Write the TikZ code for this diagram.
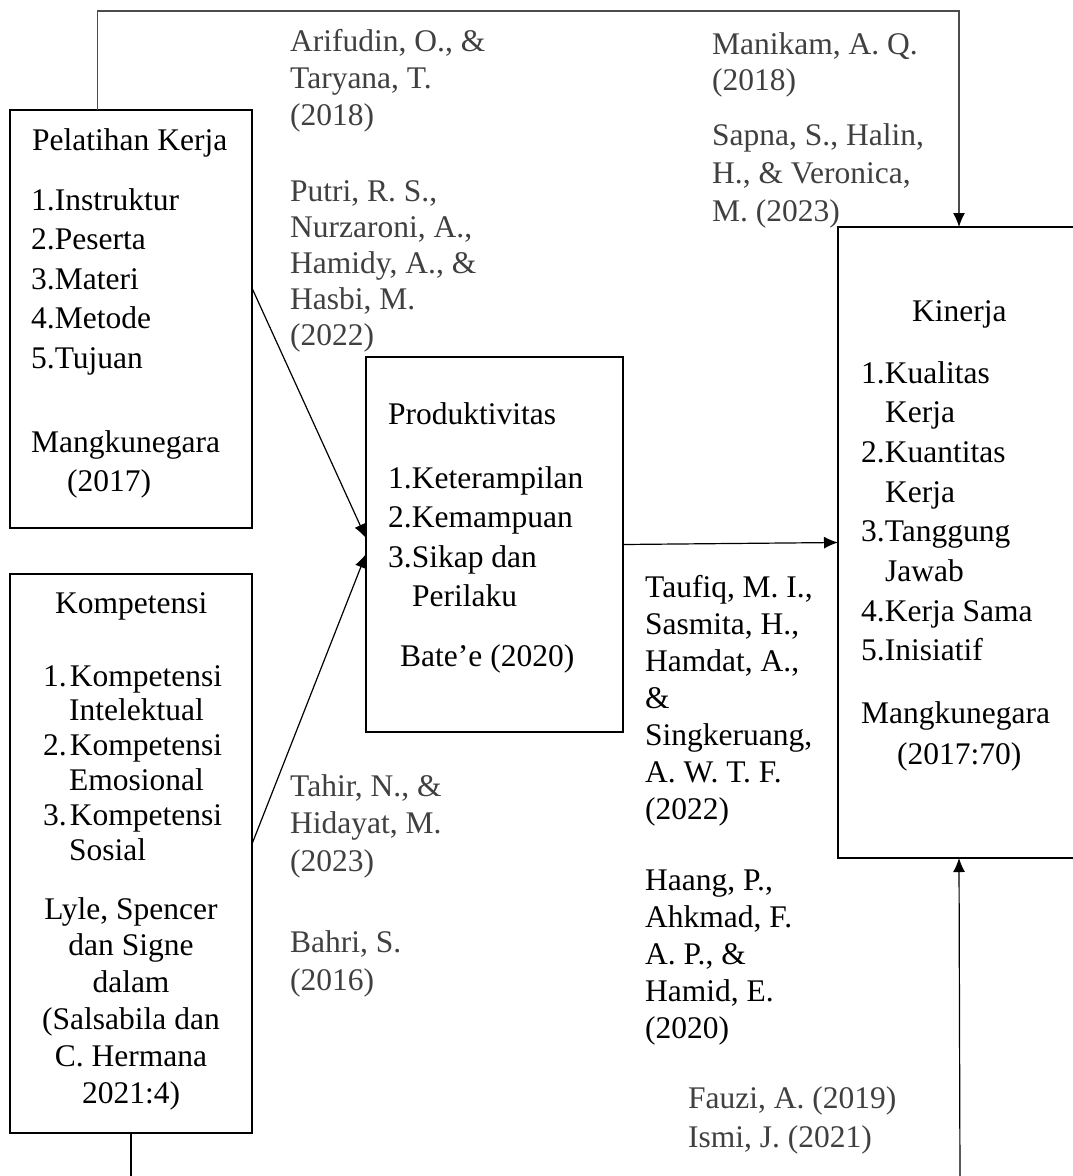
\documentclass[tikz,border=0pt]{standalone}
\usepackage{fontspec}
\setmainfont{Liberation Serif}
\usepackage{tikz}
\usetikzlibrary{arrows.meta,positioning,calc}

\tikzset{
  kotak/.style={draw, line width=2.8pt, outer sep=0pt, inner sep=0pt, anchor=north west},
  teks/.style={font=\fontsize{31.5}{#1}\selectfont, align=left, anchor=north west, inner sep=0pt},
  teks/.default=39.6,
  kutip/.style={teks=#1, text=black!75},
  kutip/.default=37,
  garis/.style={line width=1.2pt},
  panah/.style={garis, -{Latex[length=14pt,width=12pt,color=black]}}
}

\begin{document}
\begin{tikzpicture}[x=1pt,y=-1pt]
    \useasboundingbox (0,0) rectangle (1073,1176);

    \node[kotak, minimum width=242pt, minimum height=418pt] (pel) at (10,110) {};
    \node[kotak, minimum width=242pt, minimum height=559pt] (kom) at (10,574) {};
    \node[kotak, minimum width=257pt, minimum height=375pt] (prod) at (366,357) {};
    \node[kotak, minimum width=242pt, minimum height=631pt] (kin) at (838,227) {};

    \node[teks] (pelJudul) at (32,128) {Pelatihan Kerja};
    \node[teks] (pelList) at (31,188) {1.Instruktur\\2.Peserta\\3.Materi\\4.Metode\\5.Tujuan};
    \node[teks] (pelSumber) at (31,430) {Mangkunegara\\\hspace*{36pt}(2017)};

    \node[teks] (komJudul) at (55,592) {Kompetensi};
    \node[teks=34.8] (komList) at (43,665) {1.\hspace{3pt}Kompetensi\\\hspace*{26pt}Intelektual\\2.\hspace{3pt}Kompetensi\\\hspace*{26pt}Emosional\\3.\hspace{3pt}Kompetensi\\\hspace*{26pt}Sosial};
    \node[teks=36.8, align=center, anchor=north] (komSumber) at (131,897) {Lyle, Spencer\\dan Signe\\dalam\\(Salsabila dan\\C. Hermana\\2021:4)};

    \node[teks] (prodJudul) at (388,402) {Produktivitas};
    \node[teks] (prodList) at (388,466) {1.Keterampilan\\2.Kemampuan\\3.Sikap dan\\\hspace*{24pt}Perilaku};
    \node[teks] (prodSumber) at (400,644) {Bate’e (2020)};

    \node[teks] (kinJudul) at (912,300) {Kinerja};
    \node[teks=39.7] (kinList) at (861,361) {1.Kualitas\\\hspace*{24pt}Kerja\\2.Kuantitas\\\hspace*{24pt}Kerja\\3.Tanggung\\\hspace*{24pt}Jawab\\4.Kerja Sama\\5.Inisiatif};
    \node[teks=41] (kinSumber) at (861,701) {Mangkunegara\\\hspace*{36pt}(2017:70)};

    \node[kutip] (arif) at (290,29) {Arifudin, O., \&\\Taryana, T.\\(2018)};
    \node[kutip=36] (putri) at (290,180) {Putri, R. S.,\\Nurzaroni, A.,\\Hamidy, A., \&\\Hasbi, M.\\(2022)};
    \node[kutip=36] (mani) at (712,32) {Manikam, A. Q.\\(2018)};
    \node[kutip=38] (sapna) at (712,123) {Sapna, S., Halin,\\H., \& Veronica,\\M. (2023)};
    \node[teks=37] (taufiq) at (645,575) {Taufiq, M. I.,\\Sasmita, H.,\\Hamdat, A.,\\\&\\Singkeruang,\\A. W. T. F.\\(2022)};
    \node[teks=36.8] (haang) at (645,870) {Haang, P.,\\Ahkmad, F.\\A. P., \&\\Hamid, E.\\(2020)};
    \node[kutip=37.5] (tahir) at (290,774) {Tahir, N., \&\\Hidayat, M.\\(2023)};
    \node[kutip=38] (bahri) at (290,930) {Bahri, S.\\(2016)};
    \node[kutip=39] (fauzi) at (688,1086) {Fauzi, A. (2019)\\Ismi, J. (2021)};

    \draw[panah, draw=black!70] ($(pel.north west)!0.36!(pel.north east)$) -- ++(0,-99) -| (kin.north);
    \draw[panah] ($(pel.north east)!0.426!(pel.south east)$) -- ($(prod.north west)!0.483!(prod.south west)$);
    \draw[panah] ($(kom.north east)!0.483!(kom.south east)$) -- ($(prod.north west)!0.525!(prod.south west)$);
    \draw[panah] (prod.east) -- (kin.west);

    \coordinate (ujungKom) at (131,1180);
    \coordinate (ujungKin) at (960,1180);
    \draw[garis] (kom.south) -- (ujungKom);
    \draw[panah] (ujungKin) -- (kin.south);
\end{tikzpicture}
\end{document}
